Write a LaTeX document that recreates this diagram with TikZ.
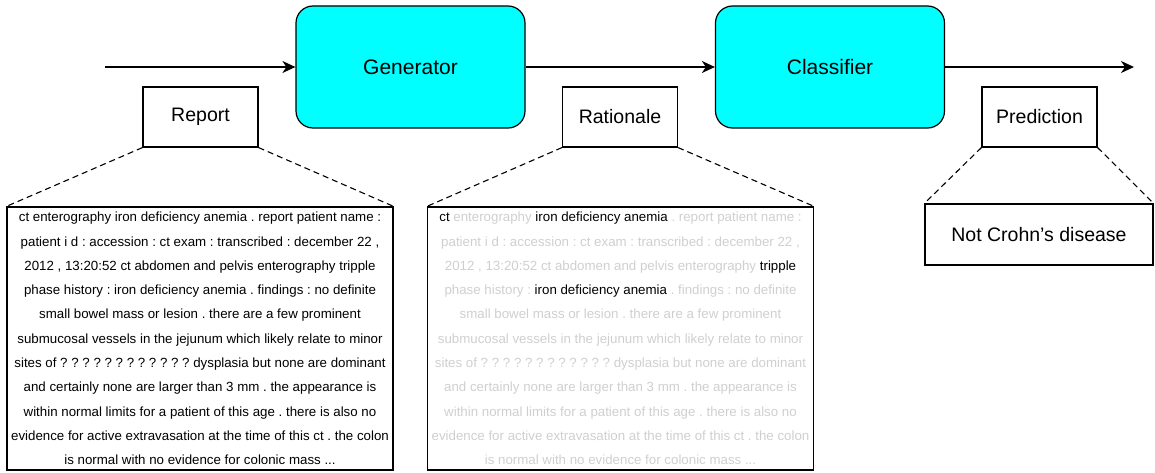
\documentclass[tikz,border=0pt]{standalone}
\usepackage{fontspec}
\setmainfont{Liberation Sans}
\usepackage{xcolor}
\usepackage{tikz}
\usetikzlibrary{arrows.meta,positioning}
\definecolor{stagecyan}{HTML}{00FFFF}
\colorlet{faded}{black!19}
\newcommand{\kept}[1]{\textcolor{black}{#1}}
\frenchspacing

\begin{document}
\begin{tikzpicture}[x=1pt,y=1pt,
    stage/.style={draw, line width=1.2pt, fill=stagecyan, rounded corners=17pt,
        minimum width=229pt, minimum height=122pt, font=\fontsize{21}{25}\selectfont},
    tag/.style={draw, line width=1.2pt, minimum width=115pt, minimum height=60pt,
        font=\fontsize{19.5}{23}\selectfont},
    doc/.style={draw, line width=1.2pt, minimum width=386pt, minimum height=263pt,
        inner sep=0pt, align=center, font=\fontsize{13.3}{24.3}\selectfont},
    zoomline/.style={line width=1.1pt, dash pattern=on 6pt off 4pt},
    flow/.style={-{Stealth[length=13pt,width=12pt,inset=4pt]}, line width=1.2pt}]
    \useasboundingbox (0,0) rectangle (1155,472);

    % Pipeline stages
    \node[stage] (gen) at (410.5,405) {Generator};
    \node[stage] (cls) at (830,405) {Classifier};
    \coordinate (in) at (105,405);
    \coordinate (out) at (1134,405);
    \draw[flow] (in) -- (gen);
    \draw[flow] (gen) -- (cls);
    \draw[flow] (cls) -- (out);

    % What flows between the stages
    \node[tag] (report) at (200.5,355) {Report};
    \node[tag] (rationale) at (620,355) {Rationale};
    \node[tag] (pred) at (1039.5,355) {Prediction};

    % Full report
    \node[doc] (reptext) at (200,133.5) {%
        ct enterography iron deficiency anemia . report patient name :\\
        patient i d : accession : ct exam : transcribed : december 22 ,\\
        2012 , 13:20:52 ct abdomen and pelvis enterography tripple\\
        phase history : iron deficiency anemia . findings : no definite\\
        small bowel mass or lesion . there are a few prominent\\
        submucosal vessels in the jejunum which likely relate to minor\\
        sites of ? ? ? ? ? ? ? ? ? ? ? ? dysplasia but none are dominant\\
        and certainly none are larger than 3 mm . the appearance is\\
        within normal limits for a patient of this age . there is also no\\
        evidence for active extravasation at the time of this ct . the colon\\
        is normal with no evidence for colonic mass ...};

    % Selected words only
    \node[doc, text=faded] (rattext) at (620.5,133.5) {%
        \kept{ct} enterography \kept{iron deficiency anemia} . report patient name :\\
        patient i d : accession : ct exam : transcribed : december 22 ,\\
        2012 , 13:20:52 ct abdomen and pelvis enterography \kept{tripple}\\
        phase history : \kept{iron deficiency anemia} . findings : no definite\\
        small bowel mass or lesion . there are a few prominent\\
        submucosal vessels in the jejunum which likely relate to minor\\
        sites of ? ? ? ? ? ? ? ? ? ? ? ? dysplasia but none are dominant\\
        and certainly none are larger than 3 mm . the appearance is\\
        within normal limits for a patient of this age . there is also no\\
        evidence for active extravasation at the time of this ct . the colon\\
        is normal with no evidence for colonic mass ...};

    \node[tag, minimum width=228pt, minimum height=61pt] (predtext) at (1039,237.5) {Not Crohn's disease};

    % Zoom-in lines
    \draw[zoomline] (report.south west) -- (reptext.north west);
    \draw[zoomline] (report.south east) -- (reptext.north east);
    \draw[zoomline] (rationale.south west) -- (rattext.north west);
    \draw[zoomline] (rationale.south east) -- (rattext.north east);
    \draw[zoomline] (pred.south west) -- (predtext.north west);
    \draw[zoomline] (pred.south east) -- (predtext.north east);
\end{tikzpicture}
\end{document}
